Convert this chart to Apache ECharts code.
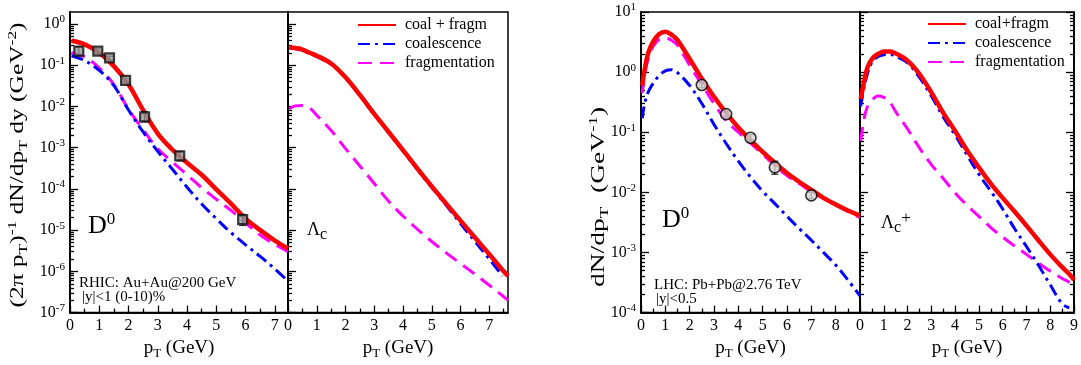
<!DOCTYPE html>
<html>
<head>
<meta charset="utf-8">
<script src="https://cdn.jsdelivr.net/npm/echarts@6/dist/echarts.min.js"></script>
<style>
  html, body { margin: 0; padding: 0; background: #fff; }
  #chart { width: 1081px; height: 365px; }
</style>
</head>
<body>
<div id="chart"></div>
<script>
// ---- data ----
// RHIC D0
const rhicPt = [0.05, 0.5, 1, 1.5, 2, 2.5, 3, 3.5, 4, 4.5, 5, 5.5, 6, 6.5, 7, 7.45];
const rhicD0Total = [0.39, 0.32, 0.20, 0.095, 0.034, 8.1e-3, 2.2e-3, 8.9e-4, 4.3e-4, 2.2e-4, 9.7e-5, 4.4e-5, 1.9e-5, 1.0e-5, 5.6e-6, 3.6e-6];
const rhicD0Coal = [0.17, 0.13, 0.075, 0.032, 8.2e-3, 2.4e-3, 8.1e-4, 3.0e-4, 1.1e-4, 4.3e-5, 1.9e-5, 8.7e-6, 4.4e-6, 2.3e-6, 1.15e-6, 5.8e-7];
const rhicD0Frag = [0.20, 0.16, 0.085, 0.034, 8.5e-3, 2.7e-3, 9.4e-4, 4.5e-4, 2.2e-4, 1.07e-4, 5.6e-5, 3.0e-5, 1.5e-5, 7.6e-6, 4.5e-6, 3.0e-6];
const rhicDataPt = [0.3, 0.95, 1.35, 1.9, 2.55, 3.75, 5.9];
const rhicDataY = [0.22, 0.22, 0.15, 0.043, 0.0056, 6.3e-4, 1.8e-5];
const rhicDataLo = [0.17, 0.19, 0.135, 0.039, 0.0042, 4.8e-4, 1.3e-5];
const rhicDataHi = [0.28, 0.25, 0.165, 0.047, 0.0075, 8.1e-4, 2.4e-5];
// RHIC Lambda_c
const rhicLcPt = [0.05, 0.25, 0.5, 0.75, 1, 1.5, 2, 2.5, 3, 3.5, 4, 4.5, 5, 5.5, 6, 6.5, 7, 7.45, 7.65];
const rhicLcTotal = [0.27, 0.26, 0.24, 0.20, 0.17, 0.11, 0.051, 0.019, 6.6e-3, 2.4e-3, 8.7e-4, 3.1e-4, 1.15e-4, 4.4e-5, 1.7e-5, 6.6e-6, 2.6e-6, 1.1e-6, 7.8e-7];
const rhicLcCoal = [0.26, 0.25, 0.23, 0.19, 0.16, 0.105, 0.049, 0.0183, 6.3e-3, 2.3e-3, 8.3e-4, 2.95e-4, 1.08e-4, 4.0e-5, 1.45e-5, 5.3e-6, 2.0e-6, 7.8e-7, null];
const rhicLcFrag = [9.0e-3, 0.0103, 0.0106, 9.2e-3, 6.1e-3, 2.6e-3, 9.5e-4, 3.6e-4, 1.35e-4, 5.0e-5, 2.2e-5, 1.05e-5, 5.3e-6, 2.8e-6, 1.55e-6, 8.5e-7, 4.6e-7, 2.6e-7, 2.0e-7];
// LHC D0
const lhcPt = [0.05, 0.15, 0.3, 0.5, 0.75, 1, 1.25, 1.5, 2, 2.5, 3, 3.5, 4, 4.5, 5, 5.5, 6, 6.5, 7, 7.5, 8, 8.5, 9];
const lhcD0Total = [0.6, 1.1, 2.1, 3.2, 4.3, 4.7, 4.2, 3.4, 1.65, 0.78, 0.39, 0.21, 0.12, 0.074, 0.047, 0.031, 0.021, 0.015, 0.011, 8.1e-3, 6.3e-3, 5.0e-3, 4.1e-3];
const lhcD0Coal = [0.17, 0.3, 0.47, 0.65, 0.88, 1.05, 1.1, 0.98, 0.6, 0.3, 0.135, 0.065, 0.033, 0.018, 0.0104, 6.5e-3, 4.0e-3, 2.5e-3, 1.6e-3, 1.0e-3, 6.2e-4, 3.5e-4, 1.9e-4];
const lhcD0Frag = [0.45, 0.9, 1.7, 2.7, 3.5, 3.7, 3.4, 2.8, 1.3, 0.62, 0.30, 0.155, 0.10, 0.066, 0.043, 0.028, 0.019, 0.014, 0.0102, 7.9e-3, 6.2e-3, 4.8e-3, 3.8e-3];
const lhcDataPt = [2.5, 3.5, 4.5, 5.5, 7];
const lhcDataY = [0.61, 0.2, 0.081, 0.026, 0.0089];
const lhcDataLo = [0.55, 0.18, 0.072, 0.020, 0.0079];
const lhcDataHi = [0.68, 0.22, 0.091, 0.033, 0.010];
// LHC Lambda_c+
const lhcLcPt = [0.03, 0.15, 0.3, 0.5, 0.75, 1, 1.25, 1.5, 2, 2.5, 3, 3.5, 4, 4.5, 5, 5.5, 6, 6.5, 7, 7.5, 8, 8.5, 8.8, 9];
const lhcLcTotal = [0.36, 0.63, 1.15, 1.65, 2.0, 2.2, 2.2, 2.05, 1.55, 0.93, 0.46, 0.21, 0.105, 0.05, 0.026, 0.014, 8.1e-3, 4.8e-3, 2.8e-3, 1.6e-3, 9.3e-4, 5.7e-4, 4.4e-4, 3.5e-4];
const lhcLcCoal = [0.27, 0.5, 0.9, 1.45, 1.8, 1.95, 1.97, 1.85, 1.42, 0.82, 0.40, 0.18, 0.09, 0.042, 0.02, 0.0105, 5.3e-3, 2.5e-3, 1.26e-3, 6.2e-4, 2.9e-4, 1.4e-4, 1.2e-4, null];
const lhcLcFrag = [0.072, 0.15, 0.26, 0.34, 0.40, 0.38, 0.32, 0.22, 0.113, 0.055, 0.029, 0.017, 9.8e-3, 6.1e-3, 4.0e-3, 2.6e-3, 1.8e-3, 1.28e-3, 9.3e-4, 6.7e-4, 4.9e-4, 3.7e-4, 3.2e-4, 2.8e-4];

// ticks
const rhicXTicks = [0, 1, 2, 3, 4, 5, 6, 7];
const lhcXTicks = [0, 1, 2, 3, 4, 5, 6, 7, 8, 9];
const rhicDecades = [-7, -6, -5, -4, -3, -2, -1, 0];
const lhcDecades = [-4, -3, -2, -1, 0, 1];

// ---- helpers ----
const FONT = 'Liberation Serif';
const lg = v => (v == null ? null : Math.log10(v));
const pairs = (xs, ys) => xs.map((x, i) => [x, lg(ys[i])]);

function minorLog(decades) {
  const out = [];
  for (let i = 0; i < decades.length - 1; i++)
    for (let k = 2; k <= 9; k++) out.push(decades[i] + Math.log10(k));
  return out;
}
function minorLin(max) {
  const out = [];
  for (let v = 0.5; v < max; v += 1) out.push(v);
  return out;
}

const subRich = {
  t: {fontFamily: FONT, fontSize: 19, color: '#000', lineHeight: 24},
  sub: {fontFamily: FONT, fontSize: 13, color: '#000', verticalAlign: 'bottom', lineHeight: 13},
  sup: {fontFamily: FONT, fontSize: 13, color: '#000', verticalAlign: 'top', lineHeight: 13}
};

function xAxes(gi, max, ticks) {
  return [
    {
      type: 'value', gridIndex: gi, min: 0, max: max, position: 'bottom',
      axisLine: {show: true, onZero: false, lineStyle: {color: '#000', width: 1.5}},
      splitLine: {show: false},
      axisTick: {show: true, inside: true, length: 7, customValues: ticks.slice(), lineStyle: {color: '#000', width: 1.3}},
      axisLabel: {show: true, customValues: ticks.slice(), color: '#000', fontFamily: FONT, fontSize: 16, margin: 5},
      name: '{t|p}{sub|T}{t| (GeV)}', nameLocation: 'middle', nameGap: 21,
      nameTextStyle: {rich: subRich}
    },
    {
      type: 'value', gridIndex: gi, min: 0, max: max, position: 'bottom',
      axisLine: {show: true, onZero: false, lineStyle: {color: '#000', width: 1.5}},
      splitLine: {show: false},
      axisTick: {show: true, inside: true, length: 4, customValues: minorLin(max), lineStyle: {color: '#000', width: 1.3}},
      axisLabel: {show: false}
    }
  ];
}

function yAxes(gi, min, max, decades, showLabels, pos) {
  return [
    {
      type: 'value', gridIndex: gi, min: min, max: max, position: pos,
      axisLine: {show: true, onZero: false, lineStyle: {color: '#000', width: 1.5}},
      splitLine: {show: false},
      axisTick: {show: true, inside: true, length: 8, customValues: decades.slice(), lineStyle: {color: '#000', width: 1.3}},
      axisLabel: {
        show: showLabels, customValues: decades.slice(), margin: 5,
        formatter: v => '{b|10}{s|' + Math.round(v) + '}',
        rich: {
          b: {fontFamily: FONT, fontSize: 16, color: '#000', lineHeight: 20},
          s: {fontFamily: FONT, fontSize: 11, color: '#000', verticalAlign: 'top', lineHeight: 11}
        }
      }
    },
    {
      type: 'value', gridIndex: gi, min: min, max: max, position: pos,
      axisLine: {show: true, onZero: false, lineStyle: {color: '#000', width: 1.5}},
      splitLine: {show: false},
      axisTick: {show: true, inside: true, length: 4, customValues: minorLog(decades), lineStyle: {color: '#000', width: 1.3}},
      axisLabel: {show: false}
    }
  ];
}

const totalStyle = {color: '#ff0000', width: 4.5, type: 'solid'};
const coalStyle = {color: '#0000ff', width: 3, type: [12, 5, 3, 5]};
const fragStyle = {color: '#ff00ff', width: 3, type: [14, 8]};

function curve(name, xi, yi, xs, ys, style, z) {
  return {
    name: name, type: 'line', xAxisIndex: xi, yAxisIndex: yi, z: z,
    data: pairs(xs, ys), smooth: 0.35, symbol: 'none', showSymbol: false,
    lineStyle: style, itemStyle: {color: style.color}, connectNulls: false
  };
}

// error bars: vertical strokes as a broken line series, caps as flat rect symbols
function errBars(xi, yi, xs, lo, hi) {
  const seg = [];
  xs.forEach((x, i) => { seg.push([x, lg(lo[i])], [x, lg(hi[i])], [x, null]); });
  const caps = [];
  xs.forEach((x, i) => { caps.push([x, lg(lo[i])], [x, lg(hi[i])]); });
  return [
    {
      type: 'line', xAxisIndex: xi, yAxisIndex: yi, z: 10, data: seg,
      symbol: 'none', showSymbol: false, connectNulls: false, smooth: false,
      lineStyle: {color: '#000', width: 1.3}, silent: true
    },
    {
      type: 'scatter', xAxisIndex: xi, yAxisIndex: yi, z: 10, data: caps,
      symbol: 'rect', symbolSize: [7, 1.3], itemStyle: {color: '#000'}, silent: true
    }
  ];
}

// grids: [left, width]
const grids = [[70, 218], [288, 220], [641, 219], [860, 219]];

const xAxis = [].concat(
  xAxes(0, 7.45, rhicXTicks),
  xAxes(1, 7.65, rhicXTicks),
  xAxes(2, 9, lhcXTicks.slice(0, 9)),
  xAxes(3, 9, lhcXTicks)
);
const yAxis = [].concat(
  yAxes(0, -7, 0.29, rhicDecades, true, 'left'),
  yAxes(1, -7, 0.29, rhicDecades, false, 'left'),
  yAxes(2, -4, 1, lhcDecades, true, 'left'),
  yAxes(3, -4, 1, lhcDecades, false, 'left'),
  yAxes(3, -4, 1, lhcDecades, false, 'right')
);
// axis index carrying the data, per grid
const xi = [0, 2, 4, 6];
const yi = [0, 2, 4, 6];

const series = [].concat(
  curve('fragmentation', xi[0], yi[0], rhicPt, rhicD0Frag, fragStyle, 2),
  curve('coalescence', xi[0], yi[0], rhicPt, rhicD0Coal, coalStyle, 3),
  curve('coal + fragm', xi[0], yi[0], rhicPt, rhicD0Total, totalStyle, 4),
  errBars(xi[0], yi[0], rhicDataPt, rhicDataLo, rhicDataHi),
  {
    type: 'scatter', xAxisIndex: xi[0], yAxisIndex: yi[0], z: 11,
    data: pairs(rhicDataPt, rhicDataY), symbol: 'rect', symbolSize: 9,
    itemStyle: {color: '#9a9a9a', borderColor: '#111', borderWidth: 2.2}
  },

  curve('fragmentation', xi[1], yi[1], rhicLcPt, rhicLcFrag, fragStyle, 2),
  curve('coalescence', xi[1], yi[1], rhicLcPt, rhicLcCoal, coalStyle, 3),
  curve('coal + fragm', xi[1], yi[1], rhicLcPt, rhicLcTotal, totalStyle, 4),

  curve('fragmentation', xi[2], yi[2], lhcPt, lhcD0Frag, fragStyle, 2),
  curve('coalescence', xi[2], yi[2], lhcPt, lhcD0Coal, coalStyle, 3),
  curve('coal+fragm', xi[2], yi[2], lhcPt, lhcD0Total, totalStyle, 4),
  errBars(xi[2], yi[2], lhcDataPt, lhcDataLo, lhcDataHi),
  {
    type: 'scatter', xAxisIndex: xi[2], yAxisIndex: yi[2], z: 11,
    data: pairs(lhcDataPt, lhcDataY), symbol: 'circle', symbolSize: 11,
    itemStyle: {color: '#d6d6d6', borderColor: '#000', borderWidth: 1.6}
  },

  curve('fragmentation', xi[3], yi[3], lhcLcPt, lhcLcFrag, fragStyle, 2),
  curve('coalescence', xi[3], yi[3], lhcLcPt, lhcLcCoal, coalStyle, 3),
  curve('coal+fragm', xi[3], yi[3], lhcLcPt, lhcLcTotal, totalStyle, 4)
);

const legendBase = {
  orient: 'vertical', itemWidth: 38, itemHeight: 14, itemGap: 3,
  textStyle: {fontFamily: FONT, fontSize: 16, color: '#000', padding: [0, 0, 0, 4]},
  selectedMode: false, padding: 0,
  itemStyle: {opacity: 0}
};

function label(left, top, text, rich) {
  return {type: 'text', left: left, top: top, z: 20, style: {text: text, rich: rich, fill: '#000'}};
}
// rotated axis title, stretched along its length like the reference
function yTitle(x, y, sx, text) {
  return {
    type: 'text', x: x, y: y, rotation: Math.PI / 2, scaleX: sx, scaleY: 1, z: 20,
    style: {text: text, rich: subRich, align: 'center', verticalAlign: 'middle', fill: '#000'}
  };
}
const tiny = {t: {fontFamily: FONT, fontSize: 15, color: '#000'}};
const dRich = {
  a: {fontFamily: FONT, fontSize: 26, color: '#000', lineHeight: 30},
  b: {fontFamily: FONT, fontSize: 17, color: '#000', verticalAlign: 'top', lineHeight: 17}
};
const lRich = {
  a: {fontFamily: FONT, fontSize: 18, color: '#000', lineHeight: 26},
  c: {fontFamily: FONT, fontSize: 16, color: '#000', verticalAlign: 'bottom', lineHeight: 14},
  p: {fontFamily: FONT, fontSize: 17, color: '#000', verticalAlign: 'top', lineHeight: 14}
};

const chart = echarts.init(document.getElementById('chart'));
chart.setOption({
  animation: false,
  grid: grids.map(g => ({
    left: g[0], width: g[1], top: 12, height: 307, show: true,
    borderColor: '#000', borderWidth: 1.5
  })),
  xAxis: xAxis,
  yAxis: yAxis,
  legend: [
    Object.assign({left: 357, top: 17, data: ['coal + fragm', 'coalescence', 'fragmentation']}, legendBase),
    Object.assign({left: 927, top: 16, data: ['coal+fragm', 'coalescence', 'fragmentation']}, legendBase)
  ],
  graphic: [
    yTitle(18, 165, 1.34, '{t|(2π p}{sub|T}{t|)}{sup|-1}{t| dN/dp}{sub|T}{t| dy (GeV}{sup|-2}{t|)}'),
    yTitle(599, 197, 1.45, '{t|dN/dp}{sub|T}{t|  (GeV}{sup|-1}{t|)}'),
    label(88, 211, '{a|D}{b|0}', dRich),
    label(79, 276, '{t|RHIC: Au+Au@200 GeV}', tiny),
    label(82, 290, '{t||y|<1 (0-10)%}', tiny),
    label(307, 221, '{a|Λ}{c|c}', lRich),
    label(662, 205, '{a|D}{b|0}', dRich),
    label(654, 278, '{t|LHC: Pb+Pb@2.76 TeV}', tiny),
    label(656, 292, '{t||y|<0.5}', tiny),
    label(881, 210, '{a|Λ}{c|c}{p|+}', lRich)
  ],
  series: series
});
</script>
</body>
</html>
